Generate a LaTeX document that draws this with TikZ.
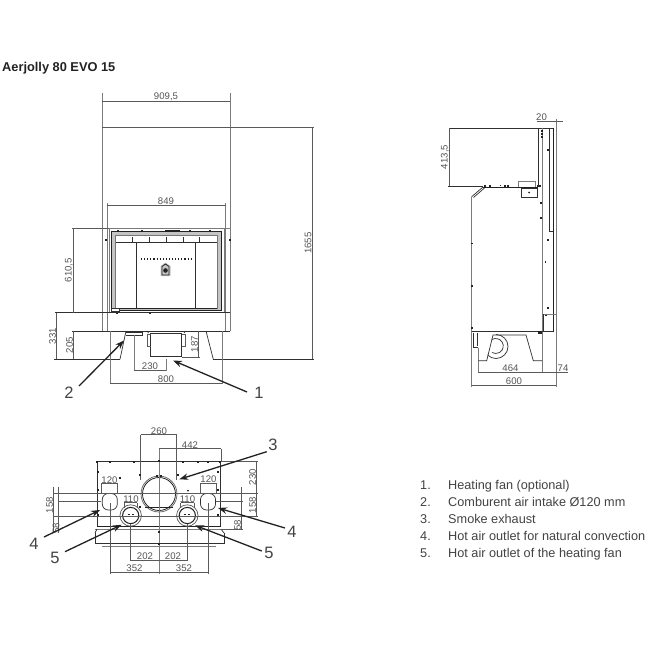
\documentclass[tikz,border=0pt]{standalone}
\usepackage{fontspec}
\setmainfont{Liberation Sans}
\usetikzlibrary{arrows.meta}
\definecolor{ink}{HTML}{303030}
\definecolor{dimc}{HTML}{5A5A5A}
\definecolor{txt}{HTML}{555555}
\definecolor{band}{HTML}{C4C4C4}
\definecolor{dark}{HTML}{222222}
\tikzset{
  x=1pt,y=-1pt,
  dimline/.style={draw=dimc,line width=0.55pt},
  extline/.style={draw=dimc,line width=0.5pt},
  body/.style={draw=ink,line width=0.7pt},
  heavy/.style={draw=dark,line width=1.1pt},
  lightl/.style={draw=dimc!80,line width=0.6pt},
  dimtxt/.style={text=txt,font=\fontsize{9.6}{10}\selectfont,inner sep=0pt},
  dimrot/.style={dimtxt,rotate=90},
  callout/.style={text=dark!85,font=\fontsize{16.5}{17}\selectfont,inner sep=0pt},
  arrowline/.style={draw=dark,line width=1.3pt,-{Stealth[length=9pt,width=6.5pt]}},
  legend/.style={text=dark!85,font=\fontsize{12.7}{14}\selectfont,inner sep=0pt,anchor=base west}
}
\newcommand{\pins}[1]{\foreach \p in {#1} \fill[dark] \p +(-0.8,-0.8) rectangle +(0.8,0.8);}
\begin{document}
\begin{tikzpicture}
\useasboundingbox[fill=white] (0,0) rectangle (650,650);
\node[inner sep=0pt,anchor=west,text=dark,font=\bfseries\fontsize{12.8}{14}\selectfont] (title) at (2,67.7) {Aerjolly 80 EVO 15};

% ---------- front view ----------
\draw[lightl] (102.3,93) -- (102.3,331) (230,93) -- (230,331);
\draw[lightl] (107,203) -- (107,331) (225.7,203) -- (225.7,331);
\draw[dimline] (102.3,101) -- (230,101);
\draw[dimline] (102.3,127) -- (314,127);
\draw[dimline] (312.7,127) -- (312.7,359);
\draw[dimline] (106.7,205) -- (225.7,205);
\node[dimtxt] (d9095) at (166,97) {909,5};
\node[dimtxt] (d849) at (166,201) {849};
\node[dimrot] (d1655) at (308,243) {1655};
% firebox
\fill[band] (111.5,231) rectangle (221.5,310);
\fill[white] (115.7,235) rectangle (217,308.5);
\draw[lightl] (102.3,228) -- (230,228);
\draw[lightl] (109,228) -- (109,312.7) (224,228) -- (224,312.7);
\draw[draw=dark,line width=0.9pt] (111.5,231) rectangle (221.5,310);
\draw[draw=band!60!black,line width=0.8pt] (115.7,235) -- (115.7,308.5) (217,235) -- (217,308.5) (115.7,235) -- (217,235);
\draw[draw=dark,line width=1.3pt] (115.7,308.7) -- (217,308.7);
\draw[body,line width=0.9pt] (115.7,242) -- (217,242);
\draw[body] (136.3,242) -- (136.3,308) (195.3,242) -- (195.3,308);
\foreach \xx in {132,149,166,183,199} \draw[body] (\xx,237) -- (\xx,242);
\draw[line width=1.1pt,dark,dash pattern=on 1.1pt off 2pt] (141,259) -- (192,259);
\fill[band] (160.5,270) -- (160.5,266) -- (165.5,262.5) -- (170.5,266) -- (170.5,276) -- (160.5,276) -- cycle;
\draw[dark,line width=0.8pt] (162,275) -- (162,266.5) -- (165.5,264) -- (169,266.5) -- (169,275) -- cycle;
\fill[dark] (165.5,270.5) circle (2.3);
\draw[heavy,line width=1.6pt] (165,230.5) -- (180,230.5);
\fill[white,draw=ink,line width=0.5pt] (111,308.3) rectangle (119,311.5);
\pins{(118,231),(142,231),(190,231),(210,231),(117,313),(150,313),(106,240),(230,240)}
% base
\draw[extline] (72,228) -- (109,228);
\draw[body] (55,312.7) -- (230,312.7);
\draw[body] (72,331) -- (230,331);
\draw[dimline] (73.3,228) -- (73.3,312.7);
\draw[dimline] (56,312.7) -- (56,359.3);
\draw[dimline] (73.3,331) -- (73.3,359.3);
\draw[body] (54,359.3) -- (120,359.3) (213.3,359.3) -- (314,359.3);
\node[dimrot] (d6105) at (69,270) {610,5};
\node[dimrot] (d331) at (52.5,336) {331};
\node[dimrot] (d205) at (69.5,345) {205};
% legs
\draw[body] (126,331) -- (120,359.3);
\draw[body] (206,331) -- (213.3,359.3);
\draw[body] (126,332) -- (142.7,332) -- (142.7,335) -- (126,335);
\draw[lightl] (110,331) -- (110,384) (222.3,331) -- (222.3,384);
\draw[lightl] (134,335) -- (134,371) (166,359) -- (166,371);
\draw[dimline] (134,370.7) -- (166,370.7);
\draw[dimline] (110,383) -- (222.3,383);
\node[dimtxt] (d230) at (150,366.5) {230};
\node[dimtxt] (d800) at (166,379.5) {800};
% fan
\draw[body] (150.7,333) rectangle (181.7,356.7);
\draw[dimc,line width=1pt] (150.7,334.5) -- (147,334.5) -- (147,346.5) -- (150.7,346.5);
\draw[dimc,line width=1pt] (181.7,334.5) -- (185.5,334.5) -- (185.5,346.5) -- (181.7,346.5);
\draw[body] (147,331) -- (148.5,333) (185.5,331) -- (184,333);
\draw[dimline] (198,331) -- (198,357);
\draw[extline] (181.7,357) -- (200,357);
\node[dimrot] (d187) at (194.5,344) {187};
% callouts 1,2
\node[callout] (n2) at (69,393) {2};
\node[callout] (n1) at (259,393) {1};
\coordinate (a2s) at (79,386); \coordinate (a2e) at (124,340.5);
\coordinate (a1s) at (247,392); \coordinate (a1e) at (173,360.5);
\draw[arrowline] (a2s) -- (a2e);
\draw[arrowline] (a1s) -- (a1e);

% ---------- side view ----------
\draw[body] (449,128.3) -- (553,128.3);
\draw[dimline] (449.3,128.3) -- (449.3,186.7);
\draw[body] (448,186.7) -- (483,186.7);
\draw[heavy,line width=0.9pt] (483,187) -- (538.3,187);
\draw[body] (538.3,128.3) -- (538.3,187);
\draw[lightl] (542.3,128.3) -- (542.3,373);
\draw[body] (549.3,128.3) -- (549.3,231.7) -- (553.3,231.7);
\draw[heavy,line width=0.8pt] (553.3,128.3) -- (553.3,331.7);
\draw[lightl] (556,119) -- (556,387);
\draw[dimline] (536.7,121) -- (563,121);
\node[dimtxt] (d20) at (541.5,117) {20};
\node[dimrot] (d4135) at (445,157) {413,5};
% rear slant and body
\draw[body] (471.7,196.7) -- (483,187);
\draw[body] (473.5,197.5) -- (484.5,188);
\draw[lightl] (471.7,196.7) -- (471.7,387);
\draw[body] (521.7,188) rectangle (537.3,197.5);
\fill[dark] (529,192.5) circle (1);
\draw[lightl] (518,187) -- (518,181.5) -- (535,181.5) -- (535,187);
\pins{(485,186),(490,186),(500.5,185.5),(505,186),(508,186),(537.5,186),(540,186),(541.7,131),(541.7,134),(541.7,137),(547.7,150),(541,203),(541,218),(547.7,240),(545.3,262),(547.7,307.7),(546,315),(471.7,243.5),(471.7,285.7),(471.7,327.7)}
% bottom
\draw[body] (471.7,331.7) -- (553.3,331.7);
\draw[lightl] (542.3,314) -- (556,314);
\draw[body] (543.5,314) -- (543.5,331.7);
\draw[body] (473,333) -- (473,347.5) -- (478,347.5) (477.5,333) -- (477.5,346);
\draw[lightl] (478.3,348) -- (478.3,373);
\draw[body] (478.3,360.7) -- (486.7,360.7) -- (493,335) -- (526,335) -- (533.3,360.7) -- (542.3,360.7);
\draw[body] (496,334.5) arc[start angle=-90,end angle=135,radius=12];
\draw[body] (492,339.5) arc[start angle=-120,end angle=120,radius=7.5];
\fill[dark] (538,331) rectangle (542,334);
\draw[dimline] (478.3,372.3) -- (567.7,372.3);
\draw[dimline] (471.7,385.7) -- (556.3,385.7);
\node[dimtxt] (d464) at (510.5,368.5) {464};
\node[dimtxt] (d74) at (563,368.5) {74};
\node[dimtxt] (d600) at (514,381.5) {600};

% ---------- top view ----------
\draw[body] (97,461) -- (220.7,461) -- (220.7,527) (97,461) -- (97,527);
\draw[heavy,line width=1pt] (97,526.5) -- (221,526.5);
\draw[lightl] (95,529.3) -- (224,529.3);
\draw[body] (95,533) -- (97,529) (224,533) -- (221,529);
\draw[body] (95,533) -- (95,543.3) -- (224,543.3) -- (224,533);
\draw[lightl] (102,546.5) -- (216,546.5);
\draw[dimc,line width=0.7pt] (159,494) circle (18);
\draw[dark,line width=0.8pt] (159,494) circle (16.5);
\draw[heavy,line width=1.4pt] (145,507.5) -- (173,507.5);
\foreach \cx in {130.7,187.3} {
  \draw[dimc,line width=0.7pt] (\cx,515.5) circle (10.7);
  \draw[dark,line width=1pt] (\cx,515.5) circle (8.1);
  \draw[dark,line width=0.7pt] (\cx-3,514) -- (\cx-1,514) (\cx+1,514) -- (\cx+3,514);
}
\foreach \cx in {109.8,208} \draw[body,rounded corners=6pt] (\cx-7.5,493.5) rectangle (\cx+7.5,510);
% dimension lines
\draw[extline] (140.7,434.7) -- (140.7,480) (176.7,434.7) -- (176.7,480);
\draw[dimline] (140.7,434.7) -- (176.7,434.7);
\draw[dimline] (159,448.7) -- (221,448.7);
\draw[extline] (221,448.7) -- (221,461);
\draw[lightl] (159,448.7) -- (159,574);
\draw[dimline] (130.7,560) -- (187.3,560);
\draw[extline] (130.7,524) -- (130.7,561) (187.3,524) -- (187.3,561);
\draw[dimline] (110,572.7) -- (208,572.7);
\draw[extline] (110,503) -- (110,574) (208,503) -- (208,574);
\draw[dimline] (101.7,483) -- (117.3,483) (200,483) -- (216.7,483);
\draw[extline] (101.7,483) -- (101.7,494) (117.3,483) -- (117.3,494) (200,483) -- (200,494) (216.7,483) -- (216.7,494);
\draw[dimline] (124.3,502.7) -- (137.3,502.7) (180.7,502.7) -- (194,502.7);
\draw[extline] (124.3,502.7) -- (124.3,508) (137.3,502.7) -- (137.3,508) (180.7,502.7) -- (180.7,508) (194,502.7) -- (194,508);
\draw[extline] (53,493.3) -- (258,493.3);
\draw[extline] (58,501.7) -- (101,501.7) (216,501.7) -- (243,501.7);
\draw[extline] (53,516) -- (258,516);
\draw[dimline] (53.3,486.7) -- (53.3,533);
\draw[dimline] (58.3,486.7) -- (58.3,533);
\draw[extline] (220,461) -- (258,461);
\draw[dimline] (256,461) -- (256,516.5);
\draw[dimline] (241,486.7) -- (241,530);
\draw[extline] (221,529) -- (243,529);
\node[dimtxt] (d260) at (159,431) {260};
\node[dimtxt] (d442) at (190,445) {442};
\node[dimtxt] (d120a) at (109.5,480) {120};
\node[dimtxt] (d120b) at (208.5,479) {120};
\node[dimtxt] (d110a) at (131,499) {110};
\node[dimtxt] (d110b) at (187.5,499) {110};
\node[dimtxt] (d202a) at (145,556.5) {202};
\node[dimtxt] (d202b) at (173,556.5) {202};
\node[dimtxt] (d352a) at (134.5,568.5) {352};
\node[dimtxt] (d352b) at (184,568.5) {352};
\node[dimrot] (d158a) at (49.5,505) {158};
\node[dimrot] (d58a) at (56,528.5) {58};
\node[dimrot] (d230b) at (252.5,477) {230};
\node[dimrot] (d158b) at (252.5,505) {158};
\node[dimrot] (d58b) at (237.5,525) {58};
\pins{(98,472),(110,462),(134,462),(183,462),(208,462),(98,490),(120,478),(140,475),(140,507),(178,475),(98,515),(218,472),(218,490),(218,515),(157,476),(161,476),(159,461),(198,462),(97,462),(220,462),(159,532),(159,544)}
\fill[dark] (188,490.5) circle (1);
% callouts 3,4,5
\node[callout] (n3) at (273,445) {3};
\node[callout] (n4a) at (34,544) {4};
\node[callout] (n5a) at (55,558) {5};
\node[callout] (n5b) at (269,553) {5};
\node[callout] (n4b) at (292,532) {4};
\coordinate (a3s) at (266.7,451.7); \coordinate (a3e) at (179.3,479.3);
\coordinate (a4as) at (44,537); \coordinate (a4ae) at (100,510);
\coordinate (a5as) at (65,551.7); \coordinate (a5ae) at (121.7,524.7);
\coordinate (a5bs) at (261.7,551); \coordinate (a5be) at (195,525.3);
\coordinate (a4bs) at (285,528); \coordinate (a4be) at (218,508);
\draw[arrowline] (a3s) -- (a3e);
\draw[arrowline] (a4as) -- (a4ae);
\draw[arrowline] (a5as) -- (a5ae);
\draw[arrowline] (a5bs) -- (a5be);
\draw[arrowline] (a4bs) -- (a4be);

% ---------- legend ----------
\node[legend] (l1) at (420,489.5) {1.}; \node[legend] (t1) at (448,489.5) {Heating fan (optional)};
\node[legend] (l2) at (420,506.5) {2.}; \node[legend] (t2) at (448,506.5) {Comburent air intake Ø120 mm};
\node[legend] (l3) at (420,523.5) {3.}; \node[legend] (t3) at (448,523.5) {Smoke exhaust};
\node[legend] (l4) at (420,540.5) {4.}; \node[legend] (t4) at (448,540.5) {Hot air outlet for natural convection};
\node[legend] (l5) at (420,557.2) {5.}; \node[legend] (t5) at (448,557.2) {Hot air outlet of the heating fan};
\end{tikzpicture}
\end{document}
